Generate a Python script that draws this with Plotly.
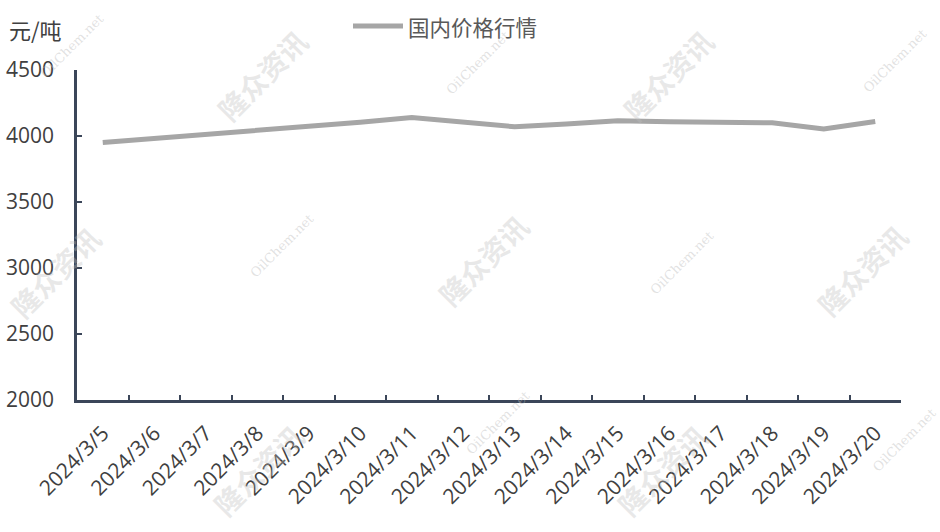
import plotly.graph_objects as go

dates = ["2024/3/5", "2024/3/6", "2024/3/7", "2024/3/8", "2024/3/9", "2024/3/10",
         "2024/3/11", "2024/3/12", "2024/3/13", "2024/3/14", "2024/3/15", "2024/3/16",
         "2024/3/17", "2024/3/18", "2024/3/19", "2024/3/20"]
prices = [3950, 3980, 4010, 4045, 4075, 4105, 4140, 4105, 4070, 4090, 4115, 4108,
          4105, 4100, 4053, 4110]
series_name = "国内价格行情"
y_ticks = [2000, 2500, 3000, 3500, 4000, 4500]
unit_label = "元/吨"

CJK = "Noto Sans CJK SC, sans-serif"
NUM = "Open Sans, Noto Sans CJK SC, sans-serif"
AXIS_COLOR = "#3b4659"
TEXT = "#404040"
LINE_COLOR = "#a6a6a6"

W, H = 940, 532
L, R, T, B = 77, 39, 70, 132
pw, ph = W - L - R, H - T - B


def px2paper(x, y):
    return (x - L) / pw, 1 - (y - T) / ph


fig = go.Figure()
fig.add_trace(go.Scatter(
    x=dates, y=prices, mode="lines", name=series_name, showlegend=False,
    line=dict(color=LINE_COLOR, width=5), hoverinfo="skip",
))

# watermarks
wm = [(262, 75), (668, 75), (483, 260), (55, 272), (862, 270), (258, 470), (662, 470)]
for x, y in wm:
    px, py = px2paper(x, y)
    fig.add_annotation(text="<b>隆众资讯</b>", x=px, y=py, xref="paper", yref="paper",
                       xanchor="center", yanchor="middle",
                       showarrow=False, textangle=-45,
                       font=dict(family=CJK, size=28, color="rgba(190,190,190,0.35)"))
wm2 = [(72, 45), (478, 62), (895, 60), (282, 245), (682, 262), (498, 422), (905, 440)]
for x, y in wm2:
    px, py = px2paper(x, y)
    fig.add_annotation(text="OilChem.net", x=px, y=py, xref="paper", yref="paper",
                       xanchor="center", yanchor="middle",
                       showarrow=False, textangle=-45,
                       font=dict(family="DejaVu Serif", size=13, color="rgba(190,190,190,0.45)"))

# unit label
ux, uy = px2paper(7, 29)
fig.add_annotation(text=unit_label, x=ux, y=uy, xref="paper", yref="paper",
                   showarrow=False, xanchor="left", yanchor="middle",
                   font=dict(family=CJK, size=22, color=TEXT))

# legend (drawn manually to match the long line sample)
lx0, ly = px2paper(353, 26)
lx1, _ = px2paper(403, 26)
fig.add_shape(type="line", x0=lx0, x1=lx1, y0=ly, y1=ly, xref="paper", yref="paper",
              line=dict(color=LINE_COLOR, width=5))
tx, ty = px2paper(406, 26)
fig.add_annotation(text=series_name, x=tx, y=ty, xref="paper", yref="paper",
                   showarrow=False, xanchor="left", yanchor="middle",
                   font=dict(family=CJK, size=21.5, color="#595959"))

fig.update_layout(
    width=W, height=H,
    margin=dict(l=L, r=R, t=T, b=B, autoexpand=False),
    paper_bgcolor="white", plot_bgcolor="white",
    font=dict(family=NUM, color=TEXT),
    showlegend=False,
    xaxis=dict(
        type="category", range=[-0.5, len(dates) - 0.5], automargin=False,
        showline=True, linecolor=AXIS_COLOR, linewidth=2.5,
        ticks="inside", ticklen=5, tickcolor=AXIS_COLOR, tickwidth=1.5,
        tickson="boundaries", tickangle=-45, showgrid=False,
        ticklabelstandoff=10,
        tickfont=dict(family=NUM, size=21, color=TEXT),
    ),
    yaxis=dict(
        range=[2000, 4500], tickvals=y_ticks, automargin=False,
        showline=True, linecolor=AXIS_COLOR, linewidth=2.5,
        ticks="inside", ticklen=5, tickcolor=AXIS_COLOR, tickwidth=1.5,
        showgrid=False, zeroline=False, ticklabelstandoff=16,
        tickfont=dict(family=NUM, size=21, color=TEXT),
    ),
)

fig.write_html("out.html", config={"displayModeBar": False},
               post_script="document.body.style.margin='0';")
